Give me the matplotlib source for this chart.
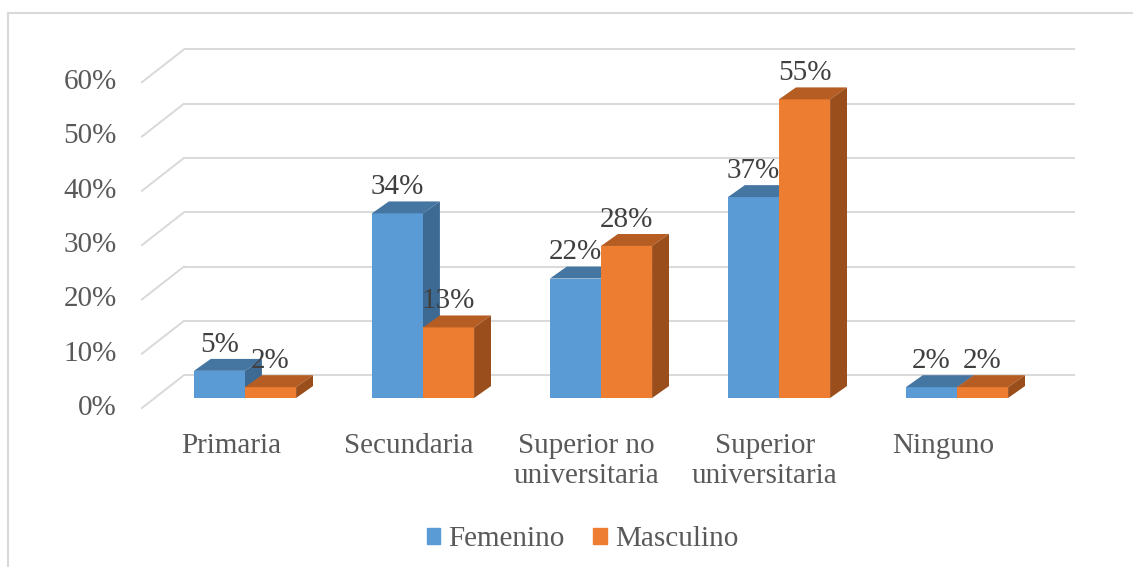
import matplotlib.pyplot as plt
from matplotlib.patches import Polygon, Patch
from matplotlib.lines import Line2D

plt.rcParams['font.family'] = ['Liberation Serif', 'DejaVu Serif']

categorias = ['Primaria', 'Secundaria', 'Superior no\nuniversitaria',
              'Superior\nuniversitaria', 'Ninguno']
femenino = [5, 34, 22, 37, 2]
masculino = [2, 13, 28, 55, 2]
ticks = [0, 10, 20, 30, 40, 50, 60]

# colores: frente, tapa, lateral
azul = ('#5b9bd5', '#4576a2', '#3d6a93')
naranja = ('#ed7d31', '#b55d22', '#9a4e1b')
gris_txt = '#595959'
gris_lin = '#d9d9d9'

# perspectiva (en unidades de datos)
w = 0.287          # ancho de barra
dx, dy = 0.095, 2.2  # profundidad de la barra
wall_y = 4.2       # desplazamiento vertical de la pared del fondo
floor_y = -1.84    # borde frontal del piso
wall_x0, wall_x1 = -0.343, 4.663
slant_x0 = -0.579

fig = plt.figure(figsize=(11.33, 5.67), dpi=100)
ax = fig.add_axes([0, 0, 1, 1])
ax.set_xlim(-245 / 178, (1133 - 245) / 178)
ax.set_ylim((398 - 567) / 5.43, 398 / 5.43)
ax.axis('off')

# cuadrícula en la pared del fondo y líneas oblicuas del piso
for t in ticks:
    ax.plot([wall_x0, wall_x1], [t + wall_y, t + wall_y], color=gris_lin, lw=1.4,
            solid_capstyle='butt', zorder=1)
    ax.plot([slant_x0, wall_x0], [t + floor_y, t + wall_y], color=gris_lin, lw=1.4,
            zorder=1)
    ax.text(-0.719, t + floor_y, f'{t}%', ha='right', va='center', fontsize=21,
            color=gris_txt)


def barra3d(x0, v, col, z):
    x1 = x0 + w
    ax.bar(x0, v, width=w, align='edge', color=col[0], lw=0, zorder=z)
    ax.add_patch(Polygon([(x0, v), (x1, v), (x1 + dx, v + dy), (x0 + dx, v + dy)],
                         closed=True, color=col[1], lw=0, zorder=z))
    ax.add_patch(Polygon([(x1, 0), (x1, v), (x1 + dx, v + dy), (x1 + dx, dy)],
                         closed=True, color=col[2], lw=0, zorder=z))
    ax.text(x0 + w / 2, v + dy + 2.6, f'{v}%', ha='center', va='center',
            fontsize=21, color='#404040', zorder=10)


for i, (f, m) in enumerate(zip(femenino, masculino)):
    barra3d(i - w, f, azul, 2 + 2 * i)
    barra3d(i, m, naranja, 3 + 2 * i)
    ax.text(i - 0.08, -6.4, categorias[i], ha='center', va='top', fontsize=21,
            color=gris_txt, linespacing=1.22)

handles = [Patch(color=azul[0], label='Femenino'),
           Patch(color=naranja[0], label='Masculino')]
fig.legend(handles=handles, loc='center', bbox_to_anchor=(0.514, 0.049), ncol=2,
           frameon=False, fontsize=21, handlelength=0.45, handleheight=0.45,
           handletextpad=0.28, columnspacing=1.0, labelcolor=gris_txt)

# borde del área del gráfico
fig.add_artist(Line2D([8 / 1133, 8 / 1133], [0, 1 - 13 / 567], color=gris_lin, lw=1.5,
                      transform=fig.transFigure))
fig.add_artist(Line2D([8 / 1133, 1], [1 - 13 / 567, 1 - 13 / 567], color=gris_lin,
                      lw=1.5, transform=fig.transFigure))

fig.savefig('out.png', dpi=100)
